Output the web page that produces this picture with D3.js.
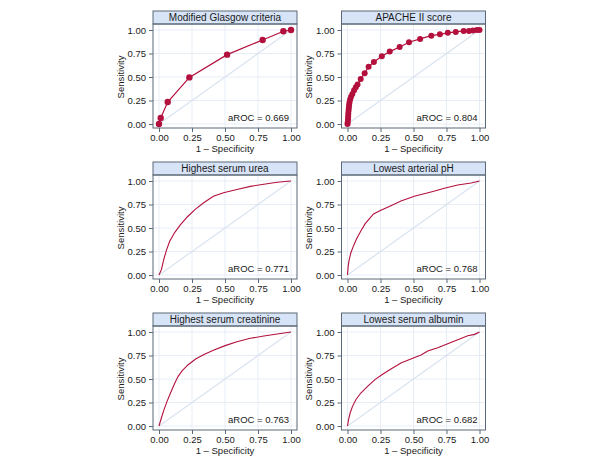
<!DOCTYPE html>
<html>
<head>
<meta charset="utf-8">
<script src="https://cdn.jsdelivr.net/npm/d3@7"></script>
<style>
  body { margin: 0; background: #fff; }
  text { font-family: "Liberation Sans", Arial, Helvetica, sans-serif; fill: #1a1a1a; }
</style>
</head>
<body>
<script>
// tick values shared by both axes
const tickValues = [0, 0.25, 0.5, 0.75, 1];

// 1 - specificity (x) and sensitivity (y)
const glasgowX = [0, 0.013, 0.066, 0.23, 0.516, 0.785, 0.942, 1];
const glasgowY = [0, 0.064, 0.234, 0.496, 0.738, 0.894, 0.986, 1];

const apacheX = [0, 0.002, 0.004, 0.005, 0.006, 0.008, 0.01, 0.012, 0.015, 0.02, 0.027, 0.037, 0.05, 0.063, 0.076,
  0.10, 0.13, 0.16, 0.20, 0.26, 0.32, 0.395, 0.466, 0.55, 0.635, 0.70, 0.76, 0.82, 0.88, 0.92, 0.95, 0.98, 1];
const apacheY = [0, 0.02, 0.05, 0.08, 0.11, 0.14, 0.17, 0.20, 0.23, 0.26, 0.29, 0.32, 0.36, 0.39, 0.42,
  0.48, 0.54, 0.61, 0.66, 0.72, 0.77, 0.82, 0.87, 0.905, 0.94, 0.954, 0.97, 0.98, 0.99, 0.99, 0.995, 1, 1];

const ureaX = [0, 0.018, 0.036, 0.056, 0.081, 0.12, 0.163, 0.214, 0.272, 0.336, 0.412, 0.489, 0.59, 0.692, 0.794, 0.896, 1];
const ureaY = [0, 0.057, 0.163, 0.262, 0.358, 0.454, 0.535, 0.617, 0.695, 0.766, 0.837, 0.876, 0.91, 0.943, 0.965, 0.986, 1];

const phX = [0, 0.005, 0.013, 0.025, 0.046, 0.068, 0.10, 0.134, 0.165, 0.197, 0.253, 0.329, 0.405, 0.506, 0.633, 0.734, 0.835, 0.937, 1];
const phY = [0, 0.092, 0.163, 0.234, 0.312, 0.383, 0.465, 0.546, 0.596, 0.649, 0.688, 0.738, 0.787, 0.837, 0.883, 0.922, 0.957, 0.979, 1];

const creatX = [0, 0.018, 0.038, 0.061, 0.087, 0.12, 0.145, 0.178, 0.221, 0.28, 0.349, 0.412, 0.501, 0.59, 0.692, 0.794, 0.896, 1];
const creatY = [0, 0.085, 0.174, 0.262, 0.351, 0.457, 0.528, 0.592, 0.652, 0.716, 0.766, 0.805, 0.855, 0.897, 0.933, 0.957, 0.979, 1];

const albX = [0, 0.008, 0.02, 0.038, 0.063, 0.101, 0.152, 0.208, 0.266, 0.329, 0.405, 0.494, 0.557, 0.608, 0.684, 0.759, 0.835, 0.911, 0.962, 1];
const albY = [0, 0.067, 0.138, 0.209, 0.28, 0.351, 0.422, 0.493, 0.55, 0.606, 0.67, 0.72, 0.755, 0.798, 0.833, 0.876, 0.918, 0.961, 0.975, 1];

const titles = ["Modified Glasgow criteria", "APACHE II score", "Highest serum urea",
  "Lowest arterial pH", "Highest serum creatinine", "Lowest serum albumin"];
const aroc = ["0.669", "0.804", "0.771", "0.768", "0.763", "0.682"];
const hasMarkers = [true, true, false, false, false, false];
const seriesX = [glasgowX, apacheX, ureaX, phX, creatX, albX];
const seriesY = [glasgowY, apacheY, ureaY, phY, creatY, albY];

const W = 600, H = 470;
const colLeft = [153, 341.5];
const rowTop = [11, 162, 313];
const boxW = 144, titleH = 13, plotH = 104;
const red = "#b3103d";
const frame = "#5b6877";

const svg = d3.select("body").append("svg")
  .attr("width", W)
  .attr("height", H);

seriesX.forEach(function(xs, i) {
  const L = colLeft[i % 2];
  const T = rowTop[Math.floor(i / 2)];
  const top = T + titleH, bottom = top + plotH;

  const x = d3.scaleLinear().domain([0, 1]).range([L + 6, L + 138]);
  const y = d3.scaleLinear().domain([0, 1]).range([T + 113, T + 19]);

  const g = svg.append("g");

  // grid
  g.append("g").selectAll("line.v").data(tickValues).join("line")
    .attr("x1", d => x(d)).attr("x2", d => x(d))
    .attr("y1", top).attr("y2", bottom)
    .attr("stroke", "#e7edf5").attr("stroke-width", 1);
  g.append("g").selectAll("line.h").data(tickValues).join("line")
    .attr("y1", d => y(d)).attr("y2", d => y(d))
    .attr("x1", L).attr("x2", L + boxW)
    .attr("stroke", "#e7edf5").attr("stroke-width", 1);

  // reference diagonal
  g.append("line")
    .attr("x1", x(0)).attr("y1", y(0))
    .attr("x2", x(1)).attr("y2", y(1))
    .attr("stroke", "#d9e3ef").attr("stroke-width", 1.2);

  // ROC curve
  const pts = xs.map((v, k) => [v, seriesY[i][k]]);
  g.append("path")
    .datum(pts)
    .attr("fill", "none")
    .attr("stroke", red)
    .attr("stroke-width", hasMarkers[i] ? 1.2 : 1.1)
    .attr("d", d3.line().x(d => x(d[0])).y(d => y(d[1])));

  if (hasMarkers[i]) {
    g.selectAll("circle").data(pts).join("circle")
      .attr("cx", d => x(d[0])).attr("cy", d => y(d[1]))
      .attr("r", i === 0 ? 3.2 : 3)
      .attr("fill", red);
  }

  // aROC label
  g.append("text")
    .attr("x", x(0.985)).attr("y", y(0.035))
    .attr("text-anchor", "end")
    .attr("font-size", 9.5)
    .text("aROC = " + aroc[i]);

  // frame + title bar
  g.append("rect")
    .attr("x", L).attr("y", T).attr("width", boxW).attr("height", titleH)
    .attr("fill", "#d7e4f7").attr("stroke", frame).attr("stroke-width", 1);
  g.append("rect")
    .attr("x", L).attr("y", top).attr("width", boxW).attr("height", plotH)
    .attr("fill", "none").attr("stroke", frame).attr("stroke-width", 1);
  g.append("text")
    .attr("x", L + boxW / 2).attr("y", T + 10)
    .attr("text-anchor", "middle")
    .attr("font-size", 10)
    .text(titles[i]);

  // axes
  const yAxis = d3.axisLeft(y).tickValues(tickValues).tickFormat(d3.format(".2f"))
    .tickSize(4).tickPadding(3);
  const ya = g.append("g").attr("transform", "translate(" + L + ",0)").call(yAxis);
  const xAxis = d3.axisBottom(x).tickValues(tickValues).tickFormat(d3.format(".2f"))
    .tickSize(4).tickPadding(2);
  const xa = g.append("g").attr("transform", "translate(0," + bottom + ")").call(xAxis);
  [ya, xa].forEach(function(a) {
    a.select(".domain").remove();
    a.selectAll(".tick line").attr("stroke", frame);
    a.selectAll(".tick text").attr("font-size", 9.5)
      .attr("font-family", "'Liberation Sans', Arial, sans-serif").attr("fill", "#1a1a1a");
  });

  g.append("text")
    .attr("x", x(0.5)).attr("y", bottom + 24)
    .attr("text-anchor", "middle")
    .attr("font-size", 9.5)
    .text("1 \u2013 Specificity");
  g.append("text")
    .attr("transform", "translate(" + (L - 29.5) + "," + y(0.5) + ") rotate(-90)")
    .attr("text-anchor", "middle")
    .attr("font-size", 9.5)
    .text("Sensitivity");
});
</script>
</body>
</html>
